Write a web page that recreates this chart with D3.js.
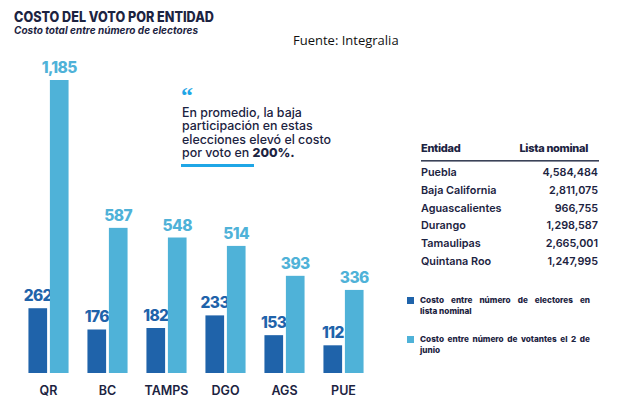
<!DOCTYPE html>
<html lang="es">
<head>
  <meta charset="UTF-8">
  <title>Costo del voto por entidad</title>
  <script src="https://d3js.org/d3.v7.min.js"></script>
  <style>
    body { margin: 0; background: #fff; }
    svg { display: block; }
    text { font-family: Inter, "Noto Sans", sans-serif; }
  </style>
</head>
<body>
  <script>
    // datos
    const categories = ["QR", "BC", "TAMPS", "DGO", "AGS", "PUE"];
    const costoLista = [262, 176, 182, 233, 153, 112];
    const costoVotantes = [1185, 587, 548, 514, 393, 336];
    const entidades = ["Puebla", "Baja California", "Aguascalientes", "Durango", "Tamaulipas", "Quintana Roo"];
    const listaNominal = [4584484, 2811075, 966755, 1298587, 2665001, 1247995];
    const legendLabels = [
      ["Costo entre número de electores en", "lista nominal"],
      ["Costo entre número de votantes el 2 de", "junio"]
    ];

    const W = 620, H = 412;
    const dark = "#1f63aa", light = "#4fb2d8", navy = "#1c2341";

    const svg = d3.select("body").append("svg")
      .attr("width", W).attr("height", H);

    // titulo
    svg.append("text")
      .attr("x", 14).attr("y", 22)
      .attr("font-size", 14).attr("font-weight", 800)
      .attr("fill", navy)
      .attr("textLength", 200).attr("lengthAdjust", "spacingAndGlyphs")
      .text("COSTO DEL VOTO POR ENTIDAD");

    svg.append("text")
      .attr("x", 14).attr("y", 34)
      .attr("font-size", 10).attr("font-weight", 700)
      .attr("font-style", "italic")
      .attr("fill", navy)
      .attr("textLength", 184).attr("lengthAdjust", "spacingAndGlyphs")
      .text("Costo total entre número de electores");

    svg.append("text")
      .attr("x", 293).attr("y", 45)
      .style("font-family", "'Open Sans', sans-serif")
      .attr("font-size", 13)
      .attr("fill", "#111")
      .text("Fuente: Integralia");

    // escalas
    const x0 = d3.scaleBand()
      .domain(categories)
      .range([19, 373])
      .paddingInner(0.32).paddingOuter(0.16);

    const x1 = d3.scaleBand()
      .domain(["lista", "votantes"])
      .range([0, x0.bandwidth()])
      .paddingInner(0.13);

    const y = d3.scaleLinear().domain([0, 1185]).range([373, 80]);

    const groups = svg.append("g").selectAll("g")
      .data(categories)
      .join("g")
      .attr("transform", d => `translate(${x0(d)},0)`);

    const series = [
      { key: "lista", values: costoLista, color: dark },
      { key: "votantes", values: costoVotantes, color: light }
    ];

    series.forEach(s => {
      groups.append("rect")
        .attr("x", x1(s.key))
        .attr("width", x1.bandwidth())
        .attr("y", (d, i) => y(s.values[i]))
        .attr("height", (d, i) => y(0) - y(s.values[i]))
        .attr("fill", s.color);

      groups.append("text")
        .attr("x", x1(s.key) + x1.bandwidth() / 2)
        .attr("y", (d, i) => y(s.values[i]) - 7)
        .attr("text-anchor", "middle")
        .attr("font-size", 15.5).attr("font-weight", 800)
        .attr("letter-spacing", -0.6)
        .attr("fill", s.color)
        .text((d, i) => d3.format(",")(s.values[i]));
    });

    // eje x (solo etiquetas)
    const xAxis = svg.append("g")
      .attr("transform", "translate(0,373)")
      .call(d3.axisBottom(x0).tickSize(0).tickPadding(0));
    xAxis.select(".domain").remove();
    xAxis.selectAll("text")
      .attr("y", 22)
      .attr("dy", 0)
      .attr("font-family", "Inter, sans-serif")
      .attr("font-size", 12.5).attr("font-weight", 600)
      .attr("fill", navy);

    // cita
    svg.append("text")
      .attr("x", 181).attr("y", 103)
      .style("font-family", "'Liberation Serif', serif")
      .attr("font-size", 24).attr("font-weight", 700)
      .attr("fill", "#1fa6e6")
      .text("\u201C");

    const quote = ["En promedio, la baja", "participación en estas", "elecciones elevó el costo"];
    const qt = svg.append("text")
      .attr("x", 182).attr("y", 117)
      .attr("font-size", 12.4).attr("font-weight", 500)
      .attr("fill", navy);
    quote.forEach((t, i) => {
      qt.append("tspan")
        .attr("x", 182).attr("y", 117 + i * 13.3)
        .text(t);
    });
    qt.append("tspan").attr("x", 182).attr("y", 117 + 3 * 13.3).text("por voto en ");
    qt.append("tspan").attr("font-weight", 800).text("200%.");

    svg.append("rect")
      .attr("x", 181).attr("y", 164)
      .attr("width", 73).attr("height", 3)
      .attr("fill", "#1fa6e6");

    // tabla
    svg.append("text")
      .attr("x", 421).attr("y", 152)
      .attr("font-size", 11).attr("font-weight", 800)
      .attr("fill", navy).attr("letter-spacing", -0.3)
      .text("Entidad");
    svg.append("text")
      .attr("x", 588).attr("y", 152)
      .attr("text-anchor", "end")
      .attr("font-size", 11).attr("font-weight", 800)
      .attr("fill", navy).attr("letter-spacing", -0.3)
      .text("Lista nominal");
    svg.append("rect")
      .attr("x", 421).attr("y", 160)
      .attr("width", 178).attr("height", 1.6)
      .attr("fill", "#3a4258");

    const rowY = d3.scalePoint().domain(entidades).range([176, 265]);
    const rows = svg.append("g").selectAll("g")
      .data(entidades)
      .join("g");
    rows.append("text")
      .attr("x", 421).attr("y", d => rowY(d))
      .attr("font-size", 10.8).attr("font-weight", 600)
      .attr("fill", navy)
      .text(d => d);
    rows.append("text")
      .attr("x", 598).attr("y", d => rowY(d))
      .attr("text-anchor", "end")
      .attr("font-size", 10.8).attr("font-weight", 600)
      .attr("fill", navy)
      .text((d, i) => d3.format(",")(listaNominal[i]));

    // leyenda
    const legendTop = [297, 336];
    const legendColors = [dark, light];
    legendLabels.forEach((lines, k) => {
      svg.append("rect")
        .attr("x", 407).attr("y", legendTop[k])
        .attr("width", 7).attr("height", 7)
        .attr("fill", legendColors[k]);

      // primera linea justificada
      const words = lines[0].split(" ");
      const tmp = words.map(w => svg.append("text")
        .attr("font-size", 8.2).attr("font-weight", 800)
        .attr("fill", navy)
        .attr("y", legendTop[k] + 6)
        .text(w));
      const widths = tmp.map(t => t.node().getComputedTextLength());
      const total = d3.sum(widths);
      const gap = (590 - 420 - total) / (words.length - 1);
      let cx = 420;
      tmp.forEach((t, i) => { t.attr("x", cx); cx += widths[i] + gap; });

      svg.append("text")
        .attr("x", 420).attr("y", legendTop[k] + 16.5)
        .attr("font-size", 8.2).attr("font-weight", 800)
        .attr("fill", navy)
        .text(lines[1]);
    });
  </script>
</body>
</html>
